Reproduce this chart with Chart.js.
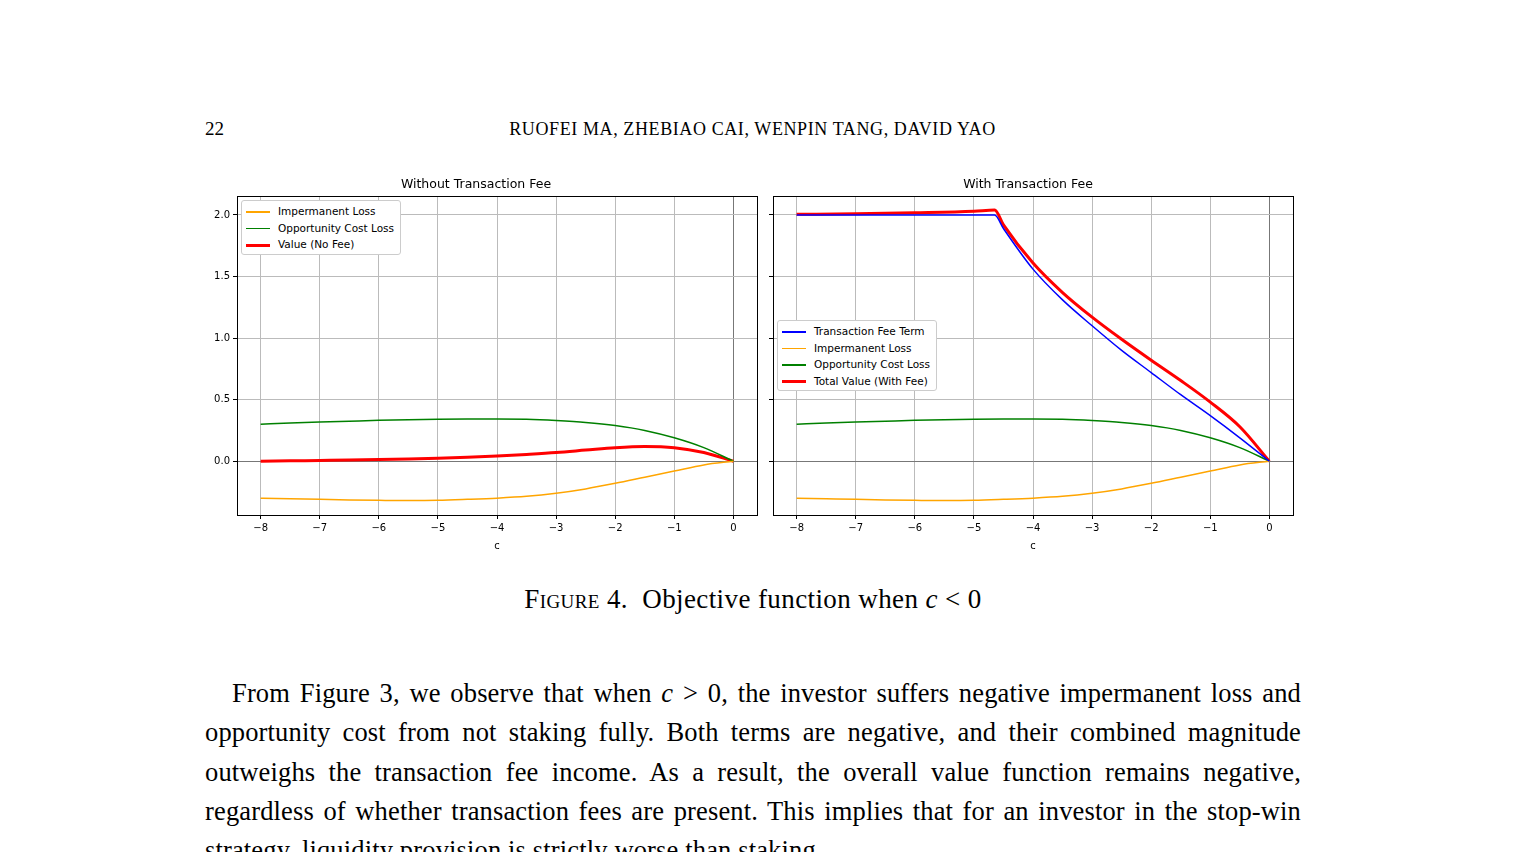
<!DOCTYPE html>
<html><head><meta charset="utf-8">
<script src="https://cdn.jsdelivr.net/npm/chart.js@4/dist/chart.umd.min.js"></script>
<style>
body{margin:0;width:1530px;height:852px;background:#fff;position:relative;overflow:hidden;font-family:"Liberation Serif",serif;}
.abs{position:absolute}
.leg{position:absolute;background:#fff;border:1px solid #ccc;border-radius:3px;font:10.5px "DejaVu Sans",sans-serif;padding:2px 6px 1px 4px;}
.leg div{height:16.5px;line-height:16.5px;white-space:nowrap}
.leg span{display:inline-block;width:24px;vertical-align:middle;margin-right:8px}
p{margin:0}
</style></head><body>
<div class="abs" style="left:205px;top:118px;font-size:19px">22</div>
<div class="abs" style="left:0;width:1505px;top:119px;text-align:center;font-size:18px;letter-spacing:0.6px">RUOFEI MA, ZHEBIAO CAI, WENPIN TANG, DAVID YAO</div>
<canvas id="c1" class="abs" style="left:195px;top:172px"></canvas>
<canvas id="c2" class="abs" style="left:763px;top:172px"></canvas>
<div class="leg" style="left:241px;top:200px">
<div><span style="height:1.5px;background:orange"></span>Impermanent Loss</div>
<div><span style="height:1.5px;background:green"></span>Opportunity Cost Loss</div>
<div><span style="height:3px;background:red"></span>Value (No Fee)</div></div>
<div class="leg" style="left:777px;top:320px">
<div><span style="height:1.5px;background:blue"></span>Transaction Fee Term</div>
<div><span style="height:1.5px;background:orange"></span>Impermanent Loss</div>
<div><span style="height:1.5px;background:green"></span>Opportunity Cost Loss</div>
<div><span style="height:3px;background:red"></span>Total Value (With Fee)</div></div>
<div class="abs" style="left:0;width:1506px;top:584px;text-align:center;font-size:27px;letter-spacing:0.4px"><span style="font-variant:small-caps">Figure 4.</span>&nbsp; Objective function when <i>c</i> &lt; 0</div>
<div class="abs" style="left:205px;width:1096px;top:674px;font-size:26.5px;line-height:39.3px;text-align:justify;letter-spacing:0.15px">
<p style="text-indent:27px">From Figure 3, we observe that when <i>c</i> &gt; 0, the investor suffers negative impermanent loss and opportunity cost from not staking fully. Both terms are negative, and their combined magnitude outweighs the transaction fee income. As a result, the overall value function remains negative, regardless of whether transaction fees are present. This implies that for an investor in the stop-win strategy, liquidity provision is strictly worse than staking.</p></div>
<script>
const cVals=[-8,-7.5,-7,-6.5,-6,-5.5,-5,-4.5,-4,-3.5,-3,-2.5,-2,-1.5,-1,-0.5,0];
const impLoss=[-0.30,-0.305,-0.31,-0.315,-0.318,-0.32,-0.318,-0.31,-0.30,-0.285,-0.26,-0.225,-0.18,-0.13,-0.08,-0.03,0];
const oppCost=[0.30,0.31,0.318,0.325,0.332,0.337,0.341,0.343,0.343,0.34,0.33,0.315,0.29,0.25,0.19,0.11,0];
const valueNoFee=[0.0,0.003,0.006,0.009,0.013,0.018,0.024,0.032,0.042,0.055,0.07,0.09,0.11,0.12,0.11,0.07,0];
const cFee=[-8,-7,-6,-5,-4.65,-4.5,-4,-3.5,-3,-2.5,-2,-1.5,-1,-0.5,0];
const feeTerm=[2.0,2.0,2.0,2.0,2.0,1.89,1.56,1.31,1.10,0.90,0.72,0.54,0.37,0.19,0];
const totalFee=[2.005,2.01,2.018,2.03,2.04,1.92,1.61,1.37,1.17,0.99,0.82,0.655,0.48,0.28,0];
const xTicks=[-8,-7,-6,-5,-4,-3,-2,-1,0];
const yTicks=[0.0,0.5,1.0,1.5,2.0];
const pts=(xs,ys)=>xs.map((x,i)=>({x:x,y:ys[i]}));
const F='"DejaVu Sans", sans-serif';
const frame={id:'frame',afterDraw(ch){const a=ch.chartArea,c=ch.ctx;c.save();c.strokeStyle='#000';c.lineWidth=1;c.strokeRect(Math.round(a.left)+0.5,Math.round(a.top)+0.5,Math.round(a.right-a.left),Math.round(a.bottom-a.top));c.restore();}};
function ds(label,xs,ys,color,w){return {label,data:pts(xs,ys),borderColor:color,borderWidth:w,pointRadius:0,cubicInterpolationMode:'monotone',fill:false};}
function make(id,title,sets,showY,W){
  const cv=document.getElementById(id);
  cv.width=W;cv.height=380;cv.style.width=W+'px';cv.style.height='380px';
  new Chart(cv,{type:'line',data:{datasets:sets},plugins:[frame],options:{
    responsive:false,animation:false,devicePixelRatio:1,
    layout:{padding:{right:5,top:0,left:0,bottom:0}},
    plugins:{legend:{display:false},tooltip:{enabled:false},
      title:{display:true,text:title,font:{family:F,size:12.5,weight:'normal'},color:'#000',padding:{top:5,bottom:4}}},
    scales:{
      x:{type:'linear',min:-8.4,max:0.4,
        afterBuildTicks:s=>{s.ticks=xTicks.map(v=>({value:v}));},
        ticks:{font:{family:F,size:10},color:'#000',callback:v=>v<0?'\u2212'+Math.abs(v):String(v),maxRotation:0},
        grid:{color:c=>c.tick&&c.tick.value===0?'#777':'#bbb',lineWidth:1,tickLength:4,tickColor:'#000'},
        border:{color:'#000'},
        title:{display:true,text:'c',font:{family:F,size:10},color:'#000',padding:{top:0,bottom:0}},
        afterFit:s=>{s.height=37;}},
      y:{min:-0.437,max:2.154,
        afterBuildTicks:s=>{s.ticks=yTicks.map(v=>({value:v}));},
        ticks:{display:showY,font:{family:F,size:10},color:'#000',callback:v=>v.toFixed(1)},
        grid:{color:c=>c.tick&&c.tick.value===0?'#777':'#bbb',lineWidth:1,tickLength:4,tickColor:'#000'},
        border:{color:'#000'},
        afterFit:s=>{s.width=showY?42:10;}}
    }}});
}
make('c1','Without Transaction Fee',[
  ds('Impermanent Loss',cVals,impLoss,'orange',1.5),
  ds('Opportunity Cost Loss',cVals,oppCost,'green',1.5),
  ds('Value (No Fee)',cVals,valueNoFee,'red',3)],true,567);
make('c2','With Transaction Fee',[
  ds('Transaction Fee Term',cFee,feeTerm,'blue',1.5),
  ds('Impermanent Loss',cVals,impLoss,'orange',1.5),
  ds('Opportunity Cost Loss',cVals,oppCost,'green',1.5),
  ds('Total Value (With Fee)',cFee,totalFee,'red',3)],false,535);
</script>
</body></html>
